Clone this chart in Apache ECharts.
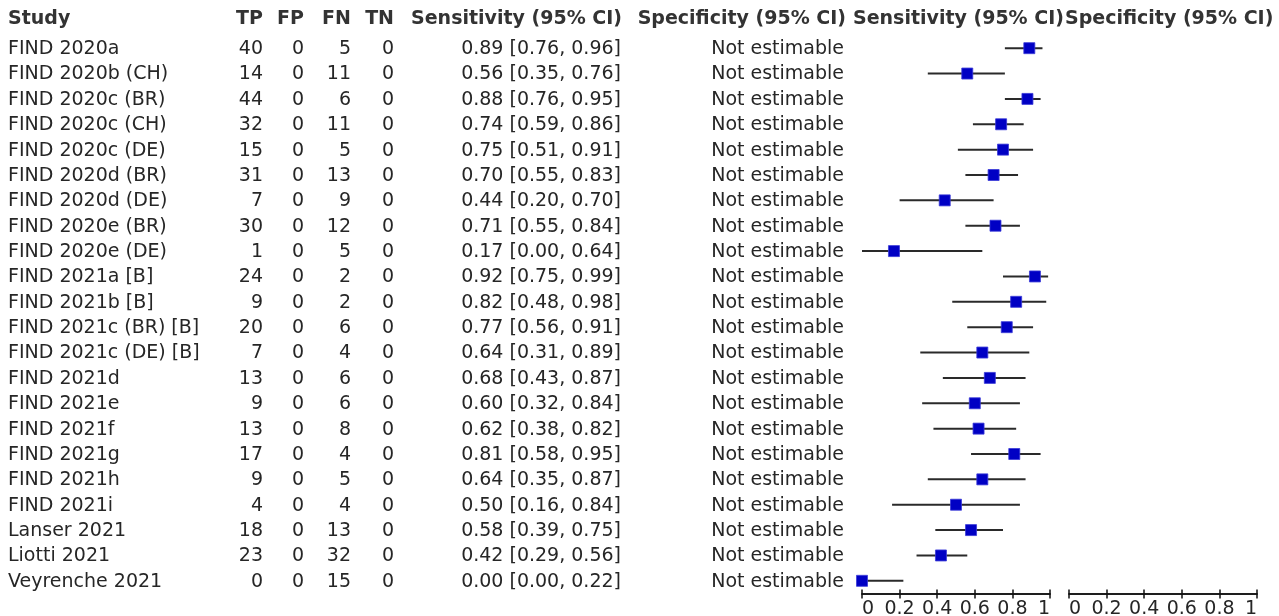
<!DOCTYPE html>
<html>
<head>
<meta charset="utf-8">
<title>Forest plot</title>
<script src="https://cdn.jsdelivr.net/npm/echarts@6/dist/echarts.min.js"></script>
<style>
  html, body { margin: 0; padding: 0; background: #fff; }
  #chart { width: 1279px; height: 616px; }
</style>
</head>
<body>
<div id="chart"></div>
<script>
const studies = [
  'FIND 2020a', 'FIND 2020b (CH)', 'FIND 2020c (BR)', 'FIND 2020c (CH)', 'FIND 2020c (DE)',
  'FIND 2020d (BR)', 'FIND 2020d (DE)', 'FIND 2020e (BR)', 'FIND 2020e (DE)', 'FIND 2021a [B]',
  'FIND 2021b [B]', 'FIND 2021c (BR) [B]', 'FIND 2021c (DE) [B]', 'FIND 2021d', 'FIND 2021e',
  'FIND 2021f', 'FIND 2021g', 'FIND 2021h', 'FIND 2021i', 'Lanser 2021', 'Liotti 2021', 'Veyrenche 2021'
]
const tp = [40, 14, 44, 32, 15, 31, 7, 30, 1, 24, 9, 20, 7, 13, 9, 13, 17, 9, 4, 18, 23, 0]
const fp = [0, 0, 0, 0, 0, 0, 0, 0, 0, 0, 0, 0, 0, 0, 0, 0, 0, 0, 0, 0, 0, 0]
const fn = [5, 11, 6, 11, 5, 13, 9, 12, 5, 2, 2, 6, 4, 6, 6, 8, 4, 5, 4, 13, 32, 15]
const tn = [0, 0, 0, 0, 0, 0, 0, 0, 0, 0, 0, 0, 0, 0, 0, 0, 0, 0, 0, 0, 0, 0]
const sens = [0.89, 0.56, 0.88, 0.74, 0.75, 0.70, 0.44, 0.71, 0.17, 0.92, 0.82, 0.77, 0.64, 0.68, 0.60, 0.62, 0.81, 0.64, 0.50, 0.58, 0.42, 0.00]
const sensLo = [0.76, 0.35, 0.76, 0.59, 0.51, 0.55, 0.20, 0.55, 0.00, 0.75, 0.48, 0.56, 0.31, 0.43, 0.32, 0.38, 0.58, 0.35, 0.16, 0.39, 0.29, 0.00]
const sensHi = [0.96, 0.76, 0.95, 0.86, 0.91, 0.83, 0.70, 0.84, 0.64, 0.99, 0.98, 0.91, 0.89, 0.87, 0.84, 0.82, 0.95, 0.87, 0.84, 0.75, 0.56, 0.22]
const specText = 'Not estimable'
const headers = ['Study', 'TP', 'FP', 'FN', 'TN', 'Sensitivity (95% CI)', 'Specificity (95% CI)', 'Sensitivity (95% CI)', 'Specificity (95% CI)']

const FONT = '"DejaVu Sans", Verdana, sans-serif'
const TEXT = '#262626'

const fmt = v => v.toFixed(2)

// columns of the table: x position + alignment
const cols = [
  { x: 8, align: 'left', get: i => studies[i] },
  { x: 263, align: 'right', get: i => String(tp[i]) },
  { x: 304, align: 'right', get: i => String(fp[i]) },
  { x: 351, align: 'right', get: i => String(fn[i]) },
  { x: 394, align: 'right', get: i => String(tn[i]) },
  { x: 621, align: 'right', get: i => fmt(sens[i]) + ' [' + fmt(sensLo[i]) + ', ' + fmt(sensHi[i]) + ']' },
  { x: 844, align: 'right', get: i => specText }
]
const headPos = [
  { x: 8, align: 'left' }, { x: 263, align: 'right' }, { x: 304, align: 'right' },
  { x: 351, align: 'right' }, { x: 394, align: 'right' }, { x: 622, align: 'right' },
  { x: 846, align: 'right' }, { x: 853, align: 'left' }, { x: 1065, align: 'left' }
]

const chart = echarts.init(document.getElementById('chart'), null, { renderer: 'canvas' })

const axisCommon = {
  type: 'value', min: 0, max: 1, interval: 0.2,
  position: 'bottom',
  splitLine: { show: false },
  axisLine: { show: true, onZero: false, lineStyle: { color: '#111', width: 1.5 } }
}
// two axes per grid so the ticks cross the axis line
function xAxes(gridIndex) {
  return [
    Object.assign({}, axisCommon, {
      gridIndex,
      axisTick: { show: true, inside: true, length: 4, lineStyle: { color: '#111', width: 1.5 } },
      axisLabel: { show: false }
    }),
    Object.assign({}, axisCommon, {
      gridIndex,
      axisTick: { show: true, length: 5, lineStyle: { color: '#111', width: 1.5 } },
      axisLabel: {
        margin: 6, color: TEXT, fontSize: 19, fontFamily: FONT,
        alignMinLabel: 'left', alignMaxLabel: 'right',
        formatter: v => String(+v.toFixed(1))
      }
    })
  ]
}
const yCommon = {
  type: 'category', data: studies, inverse: true, show: false,
  boundaryGap: true
}

const option = {
  animation: false,
  backgroundColor: '#fff',
  grid: [
    { left: 862, width: 188, top: 35.5, height: 558, containLabel: false, outerBoundsMode: 'none' },
    { left: 1069, width: 188, top: 35.5, height: 558, containLabel: false, outerBoundsMode: 'none' }
  ],
  xAxis: [...xAxes(0), ...xAxes(1)],
  yAxis: [
    Object.assign({ gridIndex: 0 }, yCommon),
    Object.assign({ gridIndex: 1 }, yCommon)
  ],
  graphic: headers.map((h, k) => ({
    type: 'text',
    x: headPos[k].x, y: 19,
    style: {
      text: h, fill: '#333', font: 'bold 19px ' + FONT,
      align: headPos[k].align, verticalAlign: 'middle'
    }
  })),
  series: [
    {
      // table text, rows placed on the category axis
      type: 'custom',
      xAxisIndex: 0, yAxisIndex: 0,
      clip: false,
      data: studies.map((s, i) => [0, i]),
      renderItem: (params, api) => {
        const i = api.value(1)
        const y = api.coord([0, i])[1] + 1
        return {
          type: 'group',
          children: cols.map(c => ({
            type: 'text',
            x: c.x, y,
            style: { text: c.get(i), fill: TEXT, font: '19px ' + FONT, align: c.align, verticalAlign: 'middle' }
          }))
        }
      }
    },
    {
      // confidence intervals
      type: 'custom',
      xAxisIndex: 0, yAxisIndex: 0,
      clip: false,
      data: studies.map((s, i) => [sensLo[i], sensHi[i], i]),
      renderItem: (params, api) => {
        const a = api.coord([api.value(0), api.value(2)])
        const b = api.coord([api.value(1), api.value(2)])
        return {
          type: 'line',
          shape: { x1: a[0], y1: a[1], x2: b[0], y2: b[1] },
          style: { stroke: '#2a2a2a', lineWidth: 2 }
        }
      }
    },
    {
      type: 'scatter',
      xAxisIndex: 0, yAxisIndex: 0,
      clip: false,
      symbol: 'rect',
      symbolSize: 11,
      itemStyle: { color: '#0000c4', borderColor: '#3a3ad8', borderWidth: 0.8, opacity: 1 },
      data: studies.map((s, i) => [sens[i], i]),
      z: 3
    }
  ]
}

chart.setOption(option)
</script>
</body>
</html>
